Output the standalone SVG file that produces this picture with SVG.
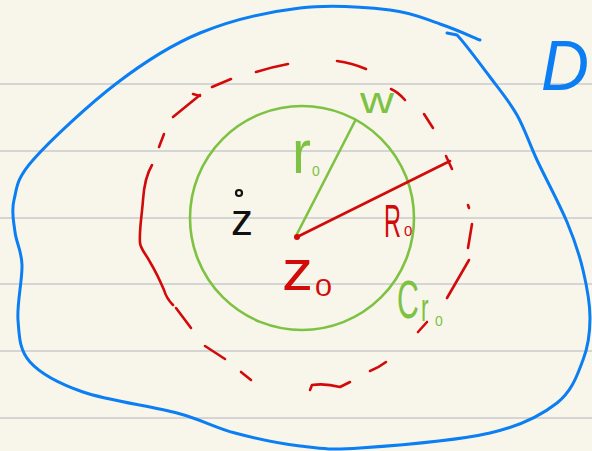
<svg xmlns="http://www.w3.org/2000/svg" width="592" height="451" viewBox="0 0 592 451">
<style>
.rule{stroke:#d5d5d5;stroke-width:2}
.blue{fill:none;stroke:#0a7ef2;stroke-width:3;stroke-linecap:round;stroke-linejoin:round}
.red{fill:none;stroke:#d20a0a;stroke-width:2.6;stroke-linecap:round;stroke-linejoin:round}
.green{fill:none;stroke:#7dc242;stroke-width:2.6;stroke-linecap:round;stroke-linejoin:round}
.lbl{font-family:"Liberation Sans","DejaVu Sans",sans-serif}
.tg{fill:#7dc242}.tr{fill:#d20a0a}.tb{fill:#0a7ef2}.tk{fill:#111}
</style>
<rect width="592" height="451" fill="#f8f6eb"/>
<g id="rules">
<line class="rule" x1="0" y1="84" x2="592" y2="84"/>
<line class="rule" x1="0" y1="151" x2="592" y2="151"/>
<line class="rule" x1="0" y1="218" x2="592" y2="218"/>
<line class="rule" x1="0" y1="284" x2="592" y2="284"/>
<line class="rule" x1="0" y1="351" x2="592" y2="351"/>
<line class="rule" x1="0" y1="418" x2="592" y2="418"/>
</g>
<g id="domain-D">
<path class="blue" d="M480,40 C473.3,37.3 455,29 440,24 C425,19 413.3,12.7 390,10 C366.7,7.3 331.7,4.2 300,8 C268.3,11.8 230.5,20.5 200,33 C169.5,45.5 144.8,61.8 117,83 C89.2,104.2 50.2,140.5 33,160 C15.8,179.5 17,188 14,200 C11,212 13.7,221.2 15,232 C16.3,242.8 21.5,250.3 22,265 C22.5,279.7 16.7,303.8 18,320 C19.3,336.2 19.2,350 30,362 C40.8,374 58.5,383.5 83,392 C107.5,400.5 151.7,406.2 177,413 C202.3,419.8 214.5,427.5 235,433 C255.5,438.5 279.2,443.5 300,446 C320.8,448.5 328.3,450.2 360,448 C391.7,445.8 457.2,440.5 490,433 C522.8,425.5 541.5,415.2 557,403 C572.5,390.8 577.5,374.2 583,360 C588.5,345.8 590,333 590,318 C590,303 586.8,286 583,270 C579.2,254 574.7,240.3 567,222 C559.3,203.7 545.3,177.8 537,160 C528.7,142.2 524.8,128.8 517,115 C509.2,101.2 500,90.3 490,77 C480,63.7 464.2,42.3 457,35 L447,33"/>
<text class="lbl tb" x="541" y="90" font-size="70" font-style="italic" textLength="48" lengthAdjust="spacingAndGlyphs">D</text>
</g>
<g id="circle-R0">
<path class="red" d="M256,72 Q272,67 288,64"/>
<path class="red" d="M212,87 L231,79"/>
<path class="red" d="M173,117 L200,95 M193,94 L200,96"/>
<path class="red" d="M159,147 L164,134"/>
<path class="red" d="M152,165 C146,175 144,185 143,200 C142,215 139,230 140,243 C141,250 146,254 150,262 C156,272 161,283 164,290 C166,297 170,302 173,305"/>
<path class="red" d="M176,308 L191,328"/>
<path class="red" d="M205,346 L225,359"/>
<path class="red" d="M241,372 L251,380"/>
<path class="red" d="M310,390 L312,385 Q325,383 340,387 L350,382"/>
<path class="red" d="M370,371 Q378,368 386,362"/>
<path class="red" d="M418,332 L427,322"/>
<path class="red" d="M447,298 L469,260"/>
<path class="red" d="M468,248 L472,224"/>
<path class="red" d="M468,205 L469,208"/>
<path class="red" d="M424,114 L433,128"/>
<path class="red" d="M391,89 Q398,92 405,100"/>
<path class="red" d="M337,61 Q352,63 366,69"/>
</g>
<g id="circle-Cr0">
<circle class="green" cx="302" cy="218" r="112"/>
<text class="lbl tg" transform="translate(397,318) scale(0.56,1)" font-size="54">C</text>
<text class="lbl tg" transform="translate(421,321) scale(0.6,1)" font-size="38">r</text>
<text class="lbl tg" x="435" y="326" font-size="14">0</text>
</g>
<g id="connectors">
<path class="green" d="M297,234 L355,121"/>
<path class="red" d="M297,237 L450,161 M446,156 L452,169"/>
<circle cx="297" cy="237" r="3" fill="#d20a0a"/>
</g>
<g id="labels">
<text class="lbl tg" x="360" y="113" font-size="36" textLength="34" lengthAdjust="spacingAndGlyphs">w</text>
<text class="lbl tg"><tspan x="292" y="173" font-size="62" textLength="19" lengthAdjust="spacingAndGlyphs">r</tspan><tspan x="312" y="176" font-size="14">0</tspan></text>
<circle cx="239" cy="193" r="3" fill="none" stroke="#111" stroke-width="2.2"/>
<text class="lbl tk" x="231" y="235" font-size="44">z</text>
<text class="lbl tr" transform="translate(384,237) scale(0.5,1)" font-size="47">R</text>
<text class="lbl tr" x="404" y="236" font-size="15">0</text>
<text class="lbl tr"><tspan x="282" y="290" font-size="58" textLength="31" lengthAdjust="spacingAndGlyphs">z</tspan><tspan x="315" y="296" font-size="24" textLength="17" lengthAdjust="spacingAndGlyphs">0</tspan></text>
</g>
</svg>
